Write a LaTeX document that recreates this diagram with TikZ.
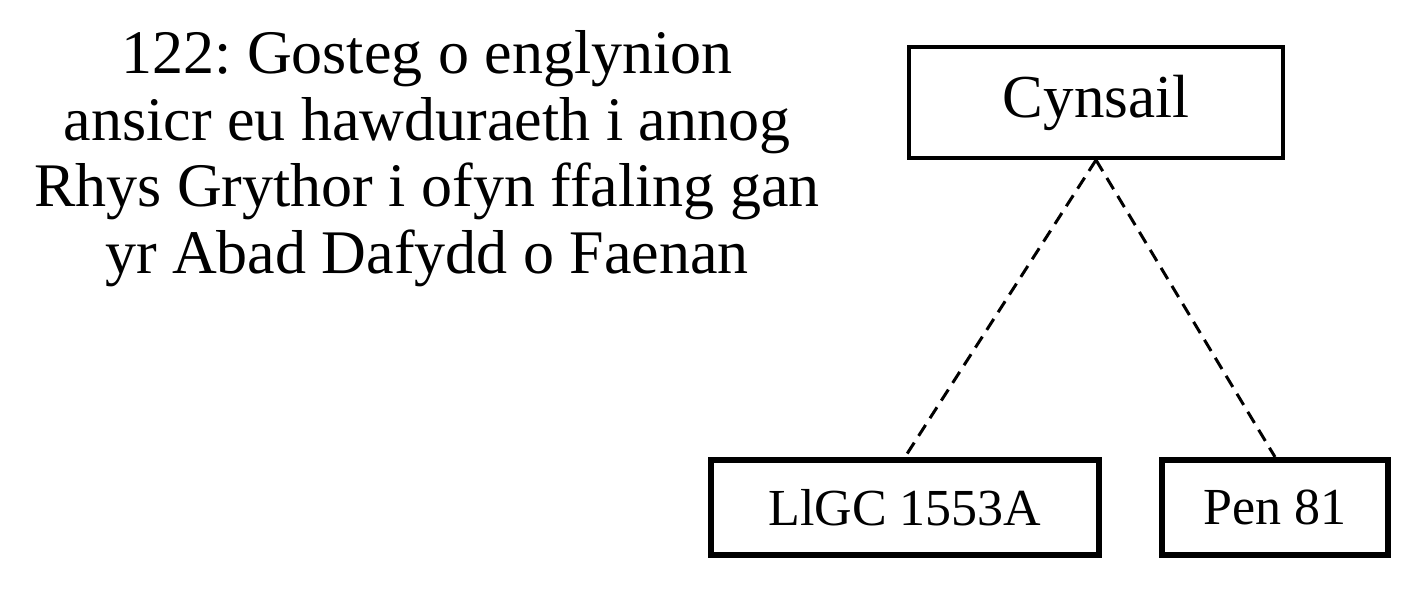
\documentclass[tikz,border=0pt]{standalone}
\usepackage{fontspec}
\setmainfont{Liberation Serif}
\usetikzlibrary{positioning}
\frenchspacing
\tikzset{
  title text/.style={align=center,inner sep=0,font=\fontsize{31}{33.3}\selectfont},
  archetype/.style={draw,line width=2pt,minimum width=187pt,minimum height=55.5pt,inner sep=0,
                    font=\fontsize{30.5}{33}\selectfont},
  witness/.style={draw,line width=3pt,minimum height=47.5pt,inner sep=0,
                  font=\fontsize{26}{28}\selectfont},
  stemma edge/.style={line width=1.5pt,dash pattern=on 6.5pt off 4pt}
}

\begin{document}
\begin{tikzpicture}[x=0.5pt,y=-0.5pt]
% page frame
\useasboundingbox (0,0) rectangle (1424,592);
%
\node[title text,anchor=north] (title) at (427,30)
  {122: Gosteg o englynion\\ansicr eu hawduraeth i annog\\Rhys Grythor i ofyn ffaling gan\\yr Abad Dafydd o Faenan};
% the stemma
\node[archetype] (cynsail) at (1096,102.5) {Cynsail};
\node[witness,minimum width=194pt] (llgc) at (905,507.5) {LlGC 1553A};
\node[witness,minimum width=113pt,right=28.5pt of llgc] (pen) {Pen 81};
\foreach \W in {llgc,pen}
{\draw[stemma edge] (cynsail.south) -- (\W.north);}
\end{tikzpicture}
\end{document}
